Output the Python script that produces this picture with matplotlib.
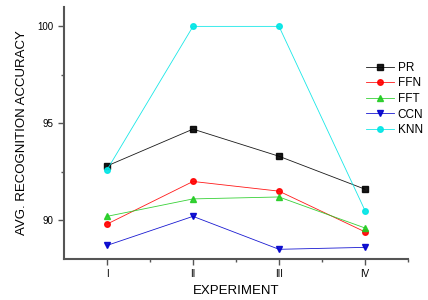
import numpy as np
import matplotlib.pyplot as plt
from matplotlib.ticker import FixedLocator

experiments = ['I', 'II', 'III', 'IV']
pr = [92.8, 94.7, 93.3, 91.6]
ffn = [89.8, 92.0, 91.5, 89.4]
fft = [90.2, 91.1, 91.2, 89.6]
ccn = [88.7, 90.2, 88.5, 88.6]
knn = [92.6, 100.0, 100.0, 90.5]

plt.rcParams['font.family'] = ['Liberation Sans', 'DejaVu Sans']

fig = plt.figure(figsize=(4.28, 3.0), dpi=100)
ax = fig.add_axes([64 / 428, 41 / 300, 344 / 428, 252 / 300])

x = np.arange(1, len(experiments) + 1)
series = [
    ('PR', pr, 'black', 's'),
    ('FFN', ffn, 'red', 'o'),
    ('FFT', fft, '#22cc22', '^'),
    ('CCN', ccn, '#0000cc', 'v'),
    ('KNN', knn, '#00e5e5', 'o'),
]
for name, vals, color, marker in series:
    ax.plot(x, vals, color=color, marker=marker, markersize=4, linewidth=0.6,
            alpha=0.9, label=name)

ax.set_xlim(0.5, 4.5)
ax.set_ylim(88, 101)
ax.set_xticks(x)
ax.set_xticklabels(experiments)
ax.xaxis.set_minor_locator(FixedLocator([1.5, 2.5, 3.5, 4.5]))
ax.set_yticks([90, 95, 100])
ax.yaxis.set_minor_locator(FixedLocator([92.5, 97.5]))
ax.tick_params(axis='both', which='major', labelsize=7, length=4, width=1, color='#555555')
ax.tick_params(axis='both', which='minor', length=2, width=1, color='#555555')

for side in ['top', 'right']:
    ax.spines[side].set_visible(False)
for side in ['left', 'bottom']:
    ax.spines[side].set_linewidth(1.5)
    ax.spines[side].set_color('#555555')

ax.set_xlabel('EXPERIMENT', fontsize=9.5, labelpad=4)
ax.set_ylabel('AVG. RECOGNITION ACCURACY', fontsize=9.5, labelpad=7)

fig.legend(loc='upper left', bbox_to_anchor=(360 / 428, 1 - 56 / 300), frameon=False,
           fontsize=8.5, handlelength=2.4, handletextpad=0.3, labelspacing=0.3,
           borderpad=0)

fig.savefig('out.png', dpi=100)
